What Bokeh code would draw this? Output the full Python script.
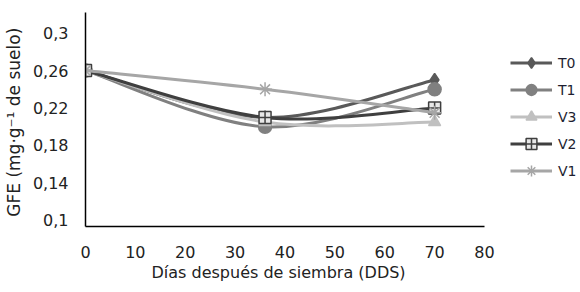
import numpy as np
from bokeh.plotting import figure
from bokeh.models import Legend, LegendItem, FixedTicker, Range1d, Title
from bokeh.embed import file_html
from bokeh.resources import INLINE

# ---- data ----
days = [0, 36, 70]
series_names = ["T0", "T1", "V3", "V2", "V1"]
T0 = [0.26, 0.21, 0.25]
T1 = [0.26, 0.20, 0.24]
V3 = [0.26, 0.205, 0.205]
V2 = [0.26, 0.21, 0.22]
V1 = [0.26, 0.24, 0.215]
x_ticks = [0, 10, 20, 30, 40, 50, 60, 70, 80]
y_ticks = [0.1, 0.14, 0.18, 0.22, 0.26, 0.3]
y_tick_labels = ["0,1", "0,14", "0,18", "0,22", "0,26", "0,3"]
x_title = "Días después de siembra (DDS)"
y_title = "GFE  (mg·g⁻¹ de suelo)"

values = {"T0": T0, "T1": T1, "V3": V3, "V2": V2, "V1": V1}
line_colors = {"T0": "#595959", "T1": "#808080", "V3": "#c0c0c0", "V2": "#3f3f3f", "V1": "#a6a6a6"}
markers = {"T0": "diamond", "T1": "circle", "V3": "triangle", "V2": "square_cross", "V1": "asterisk"}
marker_sizes = {"T0": 13, "T1": 13, "V3": 12, "V2": 12, "V1": 14}
fill_colors = {"T0": "#595959", "T1": "#808080", "V3": "#c0c0c0", "V2": "#e8e8e8", "V1": "#a6a6a6"}

W, H = 580, 292
left, right, top, bottom = 85, 2, 12, 66
axis_px = 399  # pixel length of the 0..80 axis
frame_w = W - left - right
x_max = 80 * frame_w / axis_px

p = figure(width=W, height=H, output_backend="svg", toolbar_location=None,
           x_range=Range1d(0, x_max), y_range=Range1d(0.0935, 0.322),
           min_border_left=left, min_border_right=right, min_border_top=top, min_border_bottom=bottom)
p.outline_line_color = None
p.grid.visible = False
p.background_fill_color = "white"

def bezier_ctrl(xs, ys):
    xs = np.asarray(xs, float); ys = np.asarray(ys, float)
    n = len(xs)
    x0, y0, x1, y1, cx0, cy0, cx1, cy1 = [], [], [], [], [], [], [], []
    for i in range(n - 1):
        im = max(i - 1, 0); ip2 = min(i + 2, n - 1)
        x0.append(xs[i]); y0.append(ys[i]); x1.append(xs[i + 1]); y1.append(ys[i + 1])
        cx0.append(xs[i] + (xs[i + 1] - xs[im]) / 6.0)
        cy0.append(ys[i] + (ys[i + 1] - ys[im]) / 6.0)
        cx1.append(xs[i + 1] - (xs[ip2] - xs[i]) / 6.0)
        cy1.append(ys[i + 1] - (ys[ip2] - ys[i]) / 6.0)
    return dict(x0=x0, y0=y0, x1=x1, y1=y1, cx0=cx0, cy0=cy0, cx1=cx1, cy1=cy1)

items = []
for name in series_names:
    ys = values[name]
    c = bezier_ctrl(days, ys)
    br = p.bezier(line_color=line_colors[name], line_width=3, **c)
    sr = p.scatter(days, ys, marker=markers[name], size=marker_sizes[name],
                   fill_color=fill_colors[name], line_color=line_colors[name], line_width=1.5)
    items.append(LegendItem(label=name, renderers=[br, sr]))

legend = Legend(items=items, location=(425, 42), padding=0, margin=0, spacing=0,
                glyph_width=42, glyph_height=27, label_height=27, label_standoff=6,
                border_line_color=None, background_fill_alpha=0,
                label_text_font="DejaVu Sans", label_text_font_size="14px",
                label_text_color="#1e1e30")
p.add_layout(legend, "center")

for ax in (p.xaxis[0], p.yaxis[0]):
    ax.axis_line_color = "#000000"
    ax.axis_line_width = 1.5
    ax.major_tick_line_color = None
    ax.minor_tick_line_color = None
    ax.major_label_text_font = "DejaVu Sans"
    ax.major_label_text_font_size = "16px"
    ax.major_label_text_color = "#222222"
    ax.axis_label_text_font = "DejaVu Sans"
    ax.axis_label_text_font_size = "17px"
    ax.axis_label_text_font_style = "normal"
    ax.axis_label_text_color = "#222222"

p.xaxis.bounds = (0, 80)
p.xaxis.ticker = FixedTicker(ticks=x_ticks)
p.yaxis.ticker = FixedTicker(ticks=y_ticks)
p.yaxis.major_label_overrides = {t: lab for t, lab in zip(y_ticks, y_tick_labels)}
p.xaxis.major_label_standoff = 13
p.yaxis.major_label_standoff = 11
p.yaxis.axis_label = y_title
p.yaxis.axis_label_standoff = 6

xt = Title(text=x_title, align="left", offset=66, standoff=0,
           text_font="DejaVu Sans", text_font_size="16px", text_font_style="normal",
           text_color="#222222")
p.add_layout(xt, "below")

open("out.html", "w").write(file_html(p, INLINE))
